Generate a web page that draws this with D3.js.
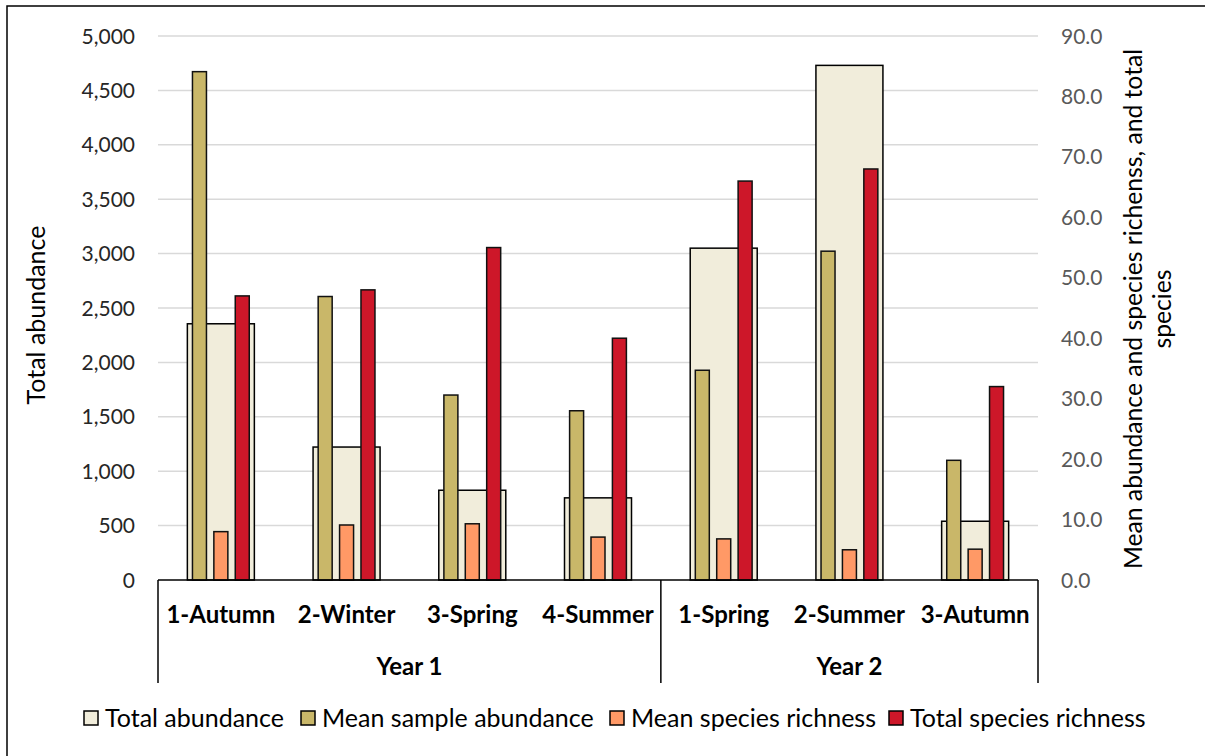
<!DOCTYPE html>
<html><head><meta charset="utf-8">
<script src="https://cdn.jsdelivr.net/npm/d3@7"></script>
<style>
html,body{margin:0;padding:0;background:#fff;}
svg text{font-family:Lato,"Open Sans",sans-serif;}
</style></head>
<body><svg id="c" width="1205" height="756"></svg>
<script>
const categories = ["1-Autumn","2-Winter","3-Spring","4-Summer","1-Spring","2-Summer","3-Autumn"];
const yearGroups = ["Year 1","Year 2"];
const yearSizes = [4,3];
const totalAbundance = [2355, 1222, 825, 755, 3050, 4730, 540];
const meanSampleAbundance = [84.1, 46.9, 30.6, 28.0, 34.7, 54.4, 19.8];
const meanSpeciesRichness = [8.0, 9.1, 9.3, 7.1, 6.8, 5.0, 5.1];
const totalSpeciesRichness = [47, 48, 55, 40, 66, 68, 32];
const leftTicks = [0,500,1000,1500,2000,2500,3000,3500,4000,4500,5000];
const rightTicks = [0,10,20,30,40,50,60,70,80,90];
const seriesNames = ["Total abundance","Mean sample abundance","Mean species richness","Total species richness"];
const seriesColors = ["#F1EDDB","#C9B769","#FF9966","#CD1729"];

const svg = d3.select("#c");
const L = 158, R = 1038, T = 36, B = 580;

// outer frame (chart area border, cropped at right/bottom)
svg.append("rect").attr("x",7).attr("y",6).attr("width",1220).attr("height",780)
  .attr("fill","none").attr("stroke","#000").attr("stroke-width",1.5);

const x = d3.scaleBand().domain(categories).range([L,R]).padding(0);
const yL = d3.scaleLinear().domain([0,5000]).range([B,T]);
const yR = d3.scaleLinear().domain([0,90]).range([B,T]);

// gridlines
svg.append("g").selectAll("line").data(leftTicks.slice(1)).join("line")
  .attr("x1",L).attr("x2",R).attr("y1",d=>yL(d)).attr("y2",d=>yL(d))
  .attr("stroke","#D9D9D9").attr("stroke-width",1.5);

// left axis labels
const fmtL = d3.format(",");
svg.append("g").selectAll("text").data(leftTicks).join("text")
  .attr("x",135).attr("y",d=>yL(d)).attr("dy","0.36em").attr("text-anchor","end")
  .attr("font-size",21).attr("fill","#262626").text(d=>fmtL(d));
// right axis labels
svg.append("g").selectAll("text").data(rightTicks).join("text")
  .attr("x",1061).attr("y",d=>yR(d)).attr("dy","0.36em").attr("text-anchor","start")
  .attr("font-size",21).attr("fill","#595959").text(d=>d.toFixed(1));

// axis titles
svg.append("text").attr("transform","translate(45,315) rotate(-90)")
  .attr("text-anchor","middle").attr("font-size",25).attr("fill","#000").text("Total abundance");
const rt = svg.append("text").attr("transform","translate(1133,309) rotate(-90)")
  .attr("text-anchor","middle").attr("font-size",24.7).attr("fill","#000");
rt.append("tspan").attr("x",0).attr("y",9).text("Mean abundance and species richenss, and total");
rt.append("tspan").attr("x",0).attr("y",38).text("species");

const bw = x.bandwidth();
// total abundance boxes
const boxW = 67;
svg.append("g").selectAll("rect").data(categories).join("rect")
  .attr("x",(d)=>x(d)+bw/2-boxW/2).attr("width",boxW)
  .attr("y",(d,i)=>yL(totalAbundance[i])).attr("height",(d,i)=>B-yL(totalAbundance[i]))
  .attr("fill",seriesColors[0]).attr("stroke","#000").attr("stroke-width",1.5);

// narrow bars on secondary axis
const narrow = [meanSampleAbundance, meanSpeciesRichness, totalSpeciesRichness];
const nbW = 14, step = 21.4;
narrow.forEach((vals,k)=>{
  svg.append("g").selectAll("rect").data(categories).join("rect")
    .attr("x",(d)=>x(d)+bw/2+(k-1)*step-nbW/2).attr("width",nbW)
    .attr("y",(d,i)=>yR(vals[i])).attr("height",(d,i)=>B-yR(vals[i]))
    .attr("fill",seriesColors[k+1]).attr("stroke","#111").attr("stroke-width",1.5);
});

// category axis
svg.append("line").attr("x1",L).attr("x2",R).attr("y1",B).attr("y2",B)
  .attr("stroke","#000").attr("stroke-width",1.5);
// group dividers
let cum = 0;
const divIdx = [0];
yearSizes.forEach(s=>{cum+=s;divIdx.push(cum);});
svg.append("g").selectAll("line").data(divIdx).join("line")
  .attr("x1",i=>i<categories.length? x(categories[i]) : R)
  .attr("x2",i=>i<categories.length? x(categories[i]) : R)
  .attr("y1",B).attr("y2",683).attr("stroke","#000").attr("stroke-width",1.5);

svg.append("g").selectAll("text").data(categories).join("text")
  .attr("x",d=>x(d)+bw/2).attr("y",623).attr("text-anchor","middle")
  .attr("font-size",24).attr("font-weight","bold").attr("fill","#000").text(d=>d);

svg.append("g").selectAll("text").data(yearGroups).join("text")
  .attr("x",(d,i)=>{const a=divIdx[i], b=divIdx[i+1]; const xa=x(categories[a]); const xb=b<categories.length?x(categories[b]):R; return (xa+xb)/2;})
  .attr("y",675).attr("text-anchor","middle")
  .attr("font-size",24).attr("font-weight","bold").attr("fill","#000").text(d=>d);

// legend
const legX = [84, 301, 610, 889];
const lg = svg.append("g");
seriesNames.forEach((n,i)=>{
  lg.append("rect").attr("x",legX[i]).attr("y",711).attr("width",14).attr("height",14)
    .attr("fill",seriesColors[i]).attr("stroke","#000").attr("stroke-width",1.5);
  lg.append("text").attr("x",legX[i]+21).attr("y",727).attr("font-size",25)
    .attr("fill","#000").text(n);
});
</script></body></html>
